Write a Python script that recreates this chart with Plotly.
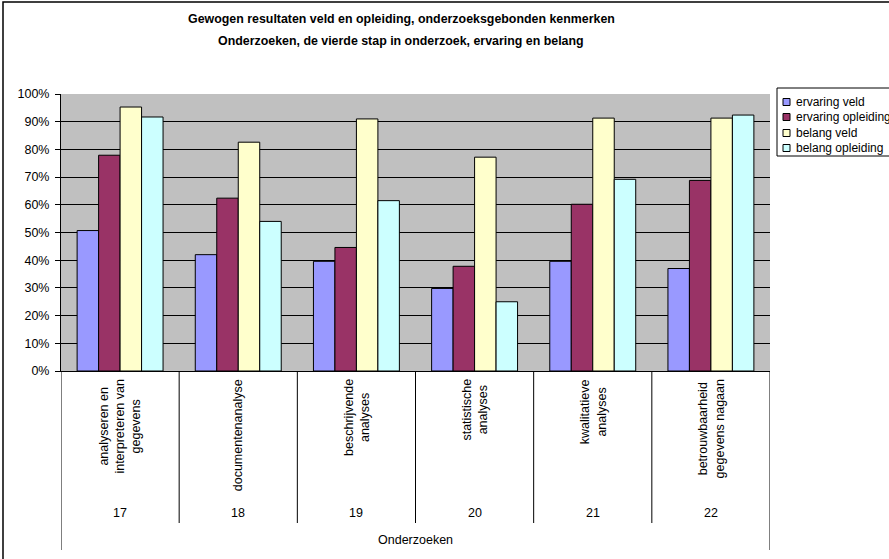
import plotly.graph_objects as go

groups = ["17", "18", "19", "20", "21", "22"]
item_labels = [
    ["analyseren en", "interpreteren van", "gegevens"],
    ["documentenanalyse"],
    ["beschrijvende", "analyses"],
    ["statistische", "analyses"],
    ["kwalitatieve", "analyses"],
    ["betrouwbaarheid", "gegevens nagaan"],
]
series_names = ["ervaring veld", "ervaring opleiding", "belang veld", "belang opleiding"]
ervaring_veld = [0.507, 0.420, 0.396, 0.298, 0.396, 0.370]
ervaring_opleiding = [0.779, 0.624, 0.446, 0.378, 0.602, 0.688]
belang_veld = [0.953, 0.826, 0.910, 0.772, 0.913, 0.913]
belang_opleiding = [0.917, 0.540, 0.615, 0.250, 0.692, 0.924]
series_values = [ervaring_veld, ervaring_opleiding, belang_veld, belang_opleiding]
colors = ["#9999FF", "#993366", "#FFFFCC", "#CCFFFF"]

title_lines = ["Gewogen resultaten veld en opleiding, onderzoeksgebonden kenmerken",
               "Onderzoeken, de vierde stap in onderzoek, ervaring en belang"]
axis_title = "Onderzoeken"

FONT = "Liberation Sans, Arial, sans-serif"
W, H = 889, 559
L, R, T, B = 61, 119, 94, 188
PW, PH = W - L - R, H - T - B

def px_x(X):
    return (X - L) / PW

def px_y(Y):
    return (H - B - Y) / PH

fig = go.Figure()
for name, vals, col in zip(series_names, series_values, colors):
    fig.add_trace(go.Bar(
        x=groups, y=vals, name=name,
        marker=dict(color=col, line=dict(color="black", width=1)),
    ))

annotations = []
for t, Y in zip(title_lines, [19, 41]):
    annotations.append(dict(
        text="<b>%s</b>" % t, xref="paper", yref="paper",
        x=px_x(401), y=px_y(Y), xanchor="center", yanchor="middle",
        showarrow=False, font=dict(family=FONT, size=12.4, color="black")))

for i, (g, lines) in enumerate(zip(groups, item_labels)):
    annotations.append(dict(
        text="<br>".join(lines), xref="x", yref="paper", x=i, y=px_y(377),
        xanchor="center", yanchor="top", textangle=-90, align="center",
        showarrow=False, font=dict(family=FONT, size=12.5, color="black")))
    annotations.append(dict(
        text=g, xref="x", yref="paper", x=i, y=px_y(513),
        xanchor="center", yanchor="middle", showarrow=False,
        font=dict(family=FONT, size=12.5, color="black")))

annotations.append(dict(
    text=axis_title, xref="paper", yref="paper", x=0.5, y=px_y(540),
    xanchor="center", yanchor="middle", showarrow=False,
    font=dict(family=FONT, size=12.5, color="black")))

shapes = []
# category dividers
for k in range(1, len(groups)):
    shapes.append(dict(type="line", xref="x", yref="paper",
                       x0=k - 0.5, x1=k - 0.5, y0=0, y1=px_y(523),
                       line=dict(color="black", width=1)))
for xe in [-0.5, len(groups) - 0.5]:
    shapes.append(dict(type="line", xref="x", yref="paper",
                       x0=xe, x1=xe, y0=0, y1=px_y(550),
                       line=dict(color="black", width=1)))
# outer chart border
shapes.append(dict(type="rect", xref="paper", yref="paper",
                   x0=px_x(3), x1=px_x(900), y0=px_y(2), y1=px_y(570),
                   line=dict(color="black", width=1.5), fillcolor="rgba(0,0,0,0)",
                   layer="below"))

# legend (box, swatches, labels)
LEG_X, LEG_TOP, LEG_BOT = 777, 88, 156
LEG_ROWS = [102, 117, 133, 148]
shapes.append(dict(type="rect", xref="paper", yref="paper",
                   x0=px_x(LEG_X), x1=px_x(900), y0=px_y(LEG_TOP), y1=px_y(LEG_BOT),
                   line=dict(color="black", width=1), fillcolor="white"))
for name, col, Y in zip(series_names, colors, LEG_ROWS):
    shapes.append(dict(type="rect", xref="paper", yref="paper",
                       x0=px_x(783), x1=px_x(790), y0=px_y(Y + 3.5), y1=px_y(Y - 3.5),
                       line=dict(color="black", width=1), fillcolor=col))
    annotations.append(dict(
        text=name, xref="paper", yref="paper", x=px_x(794), y=px_y(Y),
        xanchor="left", yanchor="middle", showarrow=False,
        font=dict(family=FONT, size=12, color="black")))

fig.update_layout(
    width=W, height=H,
    margin=dict(l=L, r=R, t=T, b=B, autoexpand=False),
    paper_bgcolor="white", plot_bgcolor="#C0C0C0",
    barmode="group", bargap=0.2727, bargroupgap=0,
    font=dict(family=FONT, size=12, color="black"),
    showlegend=False,
    annotations=annotations, shapes=shapes,
)
fig.update_xaxes(type="category", range=[-0.5, len(groups) - 0.5],
                 showticklabels=False, showline=True, linecolor="black",
                 linewidth=1, showgrid=False, ticks="")
fig.update_yaxes(range=[0, 1], dtick=0.1, tickformat=".0%",
                 showline=True, linecolor="black", linewidth=1,
                 ticks="outside", ticklen=5, tickcolor="black",
                 ticklabelstandoff=3,
                 showgrid=True, gridcolor="black", gridwidth=1,
                 zeroline=False, tickfont=dict(family=FONT, size=12.5))

fig.write_html("out.html", config={"displayModeBar": False},
               post_script="document.body.style.margin='0';document.body.style.overflow='hidden';")
